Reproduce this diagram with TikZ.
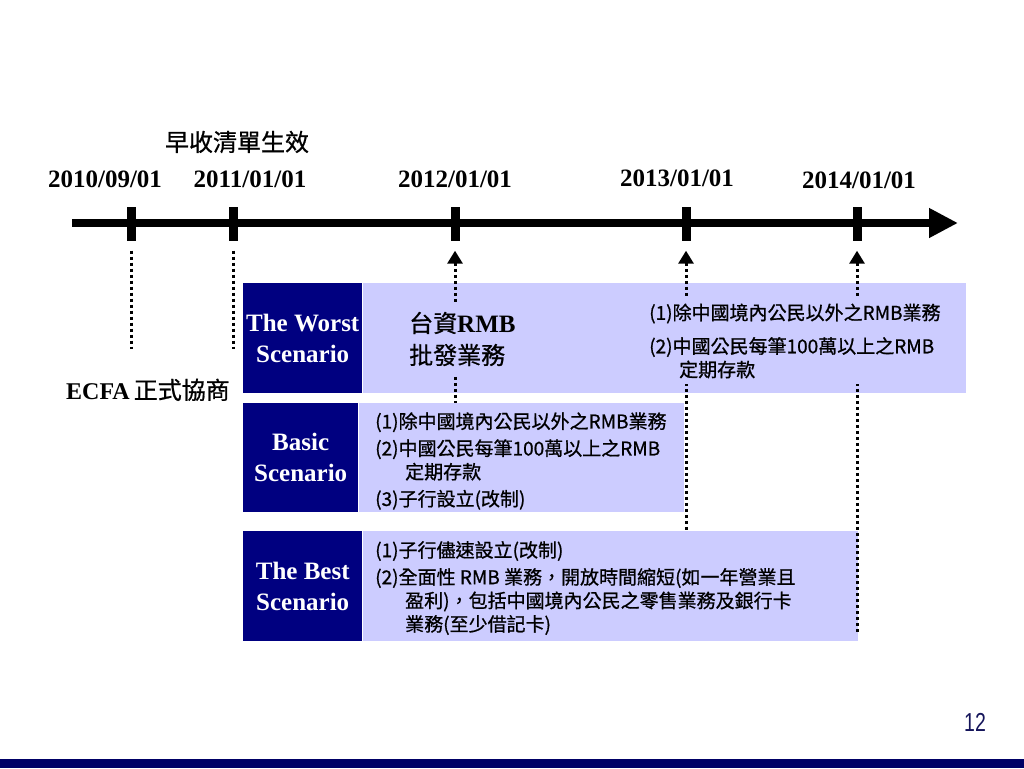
\documentclass[tikz,border=0pt]{standalone}
\usepackage{fontspec}
\setmainfont{Liberation Serif}
\newfontfamily\cjk[FakeBold=0.8]{Noto Sans CJK TC}
\newfontfamily\pagefont{Liberation Sans}
\usetikzlibrary{arrows.meta, positioning}
\definecolor{scnavy}{RGB}{0,0,128}
\definecolor{sclight}{RGB}{204,204,255}
\definecolor{barnavy}{RGB}{0,0,102}
\definecolor{pagenavy}{RGB}{20,20,90}

\begin{document}
\begin{tikzpicture}[
    x=1pt, y=-1pt,
    % Styles
    tick/.style={
        fill=black, inner sep=0pt,
        minimum width=9pt, minimum height=34pt
    },
    datelabel/.style={
        anchor=base, inner sep=0pt,
        font=\fontsize{25}{28}\selectfont\bfseries
    },
    scenlabel/.style={
        fill=scnavy, text=white, anchor=north west,
        align=center, inner sep=0pt, minimum height=110pt,
        font=\fontsize{25}{31}\selectfont\bfseries
    },
    scenbox/.style={
        fill=sclight, inner sep=0pt, minimum height=110pt
    },
    items/.style={
        fill=sclight, anchor=west, align=left,
        inner xsep=3pt, inner ysep=5pt,
        font=\cjk\fontsize{19}{23.5}\selectfont
    },
    bigcjk/.style={
        inner sep=0pt, font=\cjk\fontsize{24}{32}\selectfont
    },
    timeline/.style={
        -{Triangle[length=29pt, width=28pt]}, line width=8pt
    },
    dotline/.style={
        line width=3pt, dash pattern=on 3pt off 3pt
    },
    dotarrow/.style={
        dotline, {Triangle[length=13pt, width=15pt]}-
    }
]

\useasboundingbox (0,0) rectangle (1024,768);

% The main timeline arrow
\coordinate (start) at (72,223);
\coordinate (end) at (958,223);
\draw[timeline] (start) -- (end);

% Ticks on the timeline
\node[tick] (t1) at (131,223.5) {};
\node[tick] (t2) at (233,223.5) {};
\node[tick] (t3) at (455,223.5) {};
\node[tick] (t4) at (686,223.5) {};
\node[tick] (t5) at (857,223.5) {};

% Dates
\node[datelabel] (d1) at (105,187) {2010/09/01};
\node[datelabel] (d2) at (250,187) {2011/01/01};
\node[datelabel] (d3) at (455,187) {2012/01/01};
\node[datelabel] (d4) at (677,186) {2013/01/01};
\node[datelabel] (d5) at (859,188) {2014/01/01};
\node[bigcjk] (early) at (237,142) {早收清單生效};

% The worst scenario
\node[scenlabel, minimum width=119pt] (worstlab) at (243,283) {The Worst\\Scenario};
\node[scenbox, minimum width=603pt, right=0pt of worstlab] (worstbox) {};

% Basic scenario
\node[scenlabel, minimum width=115pt, minimum height=109pt] (basiclab) at (243,403) {Basic\\Scenario};
\node[scenbox, minimum width=325pt, minimum height=109pt, right=0pt of basiclab] (basicbox) {};

% The best scenario
\node[scenlabel, minimum width=119pt] (bestlab) at (243,531) {The Best\\Scenario};
\node[scenbox, minimum width=495pt, right=0pt of bestlab] (bestbox) {};

% Dotted lines from the ticks
\draw[dotline] ([yshift=-10pt]t1.south) -- ++(0,98);
\draw[dotline] ([yshift=-10pt]t2.south) -- ++(0,98);
\draw[dotarrow] ([yshift=-10pt]t3.south) -- (t3 |- basicbox.north);
\draw[dotarrow] ([yshift=-10pt]t4.south) -- (t4 |- bestbox.north);
\draw[dotarrow] ([yshift=-10pt]t5.south) -- ([yshift=8pt]t5 |- bestbox.south);

\node[font=\fontsize{24}{28}\selectfont\bfseries, anchor=base west, inner sep=0pt] (ecfa) at (66,399)
    {ECFA\hspace{4pt}{\cjk\mdseries 正式協商}};

% Texts in the boxes
\node[items, inner ysep=9pt, font=\cjk\fontsize{24}{32}\selectfont] (worstmid) at (406,339)
    {台資{\rmfamily\bfseries\fontsize{25}{32}\selectfont RMB}\\批發業務};
\node[items, inner ysep=6pt] (worsttxt) at (646,341) {
    (1)除中國境內公民以外之RMB業務\\[10pt]
    (2)中國公民每筆100萬以上之RMB\\
    \hspace*{30pt}定期存款
};
\node[items, inner ysep=2pt] (basictxt) at (372,461) {
    (1)除中國境內公民以外之RMB業務\\[3.5pt]
    (2)中國公民每筆100萬以上之RMB\\
    \hspace*{30pt}定期存款\\[3.5pt]
    (3)子行設立(改制)
};
\node[items, fill=none] (besttxt) at (372,588) {
    (1)子行儘速設立(改制)\\[3.5pt]
    (2)全面性 RMB 業務，開放時間縮短(如一年營業且\\
    \hspace*{30pt}盈利)，包括中國境內公民之零售業務及銀行卡\\
    \hspace*{30pt}業務(至少借記卡)
};

% Footer
\node[font=\pagefont\fontsize{26}{28}\selectfont, text=pagenavy, xscale=0.75] (pagenum) at (975,722) {12};
\fill[barnavy] (0,759) rectangle (1024,768);

\end{tikzpicture}
\end{document}
